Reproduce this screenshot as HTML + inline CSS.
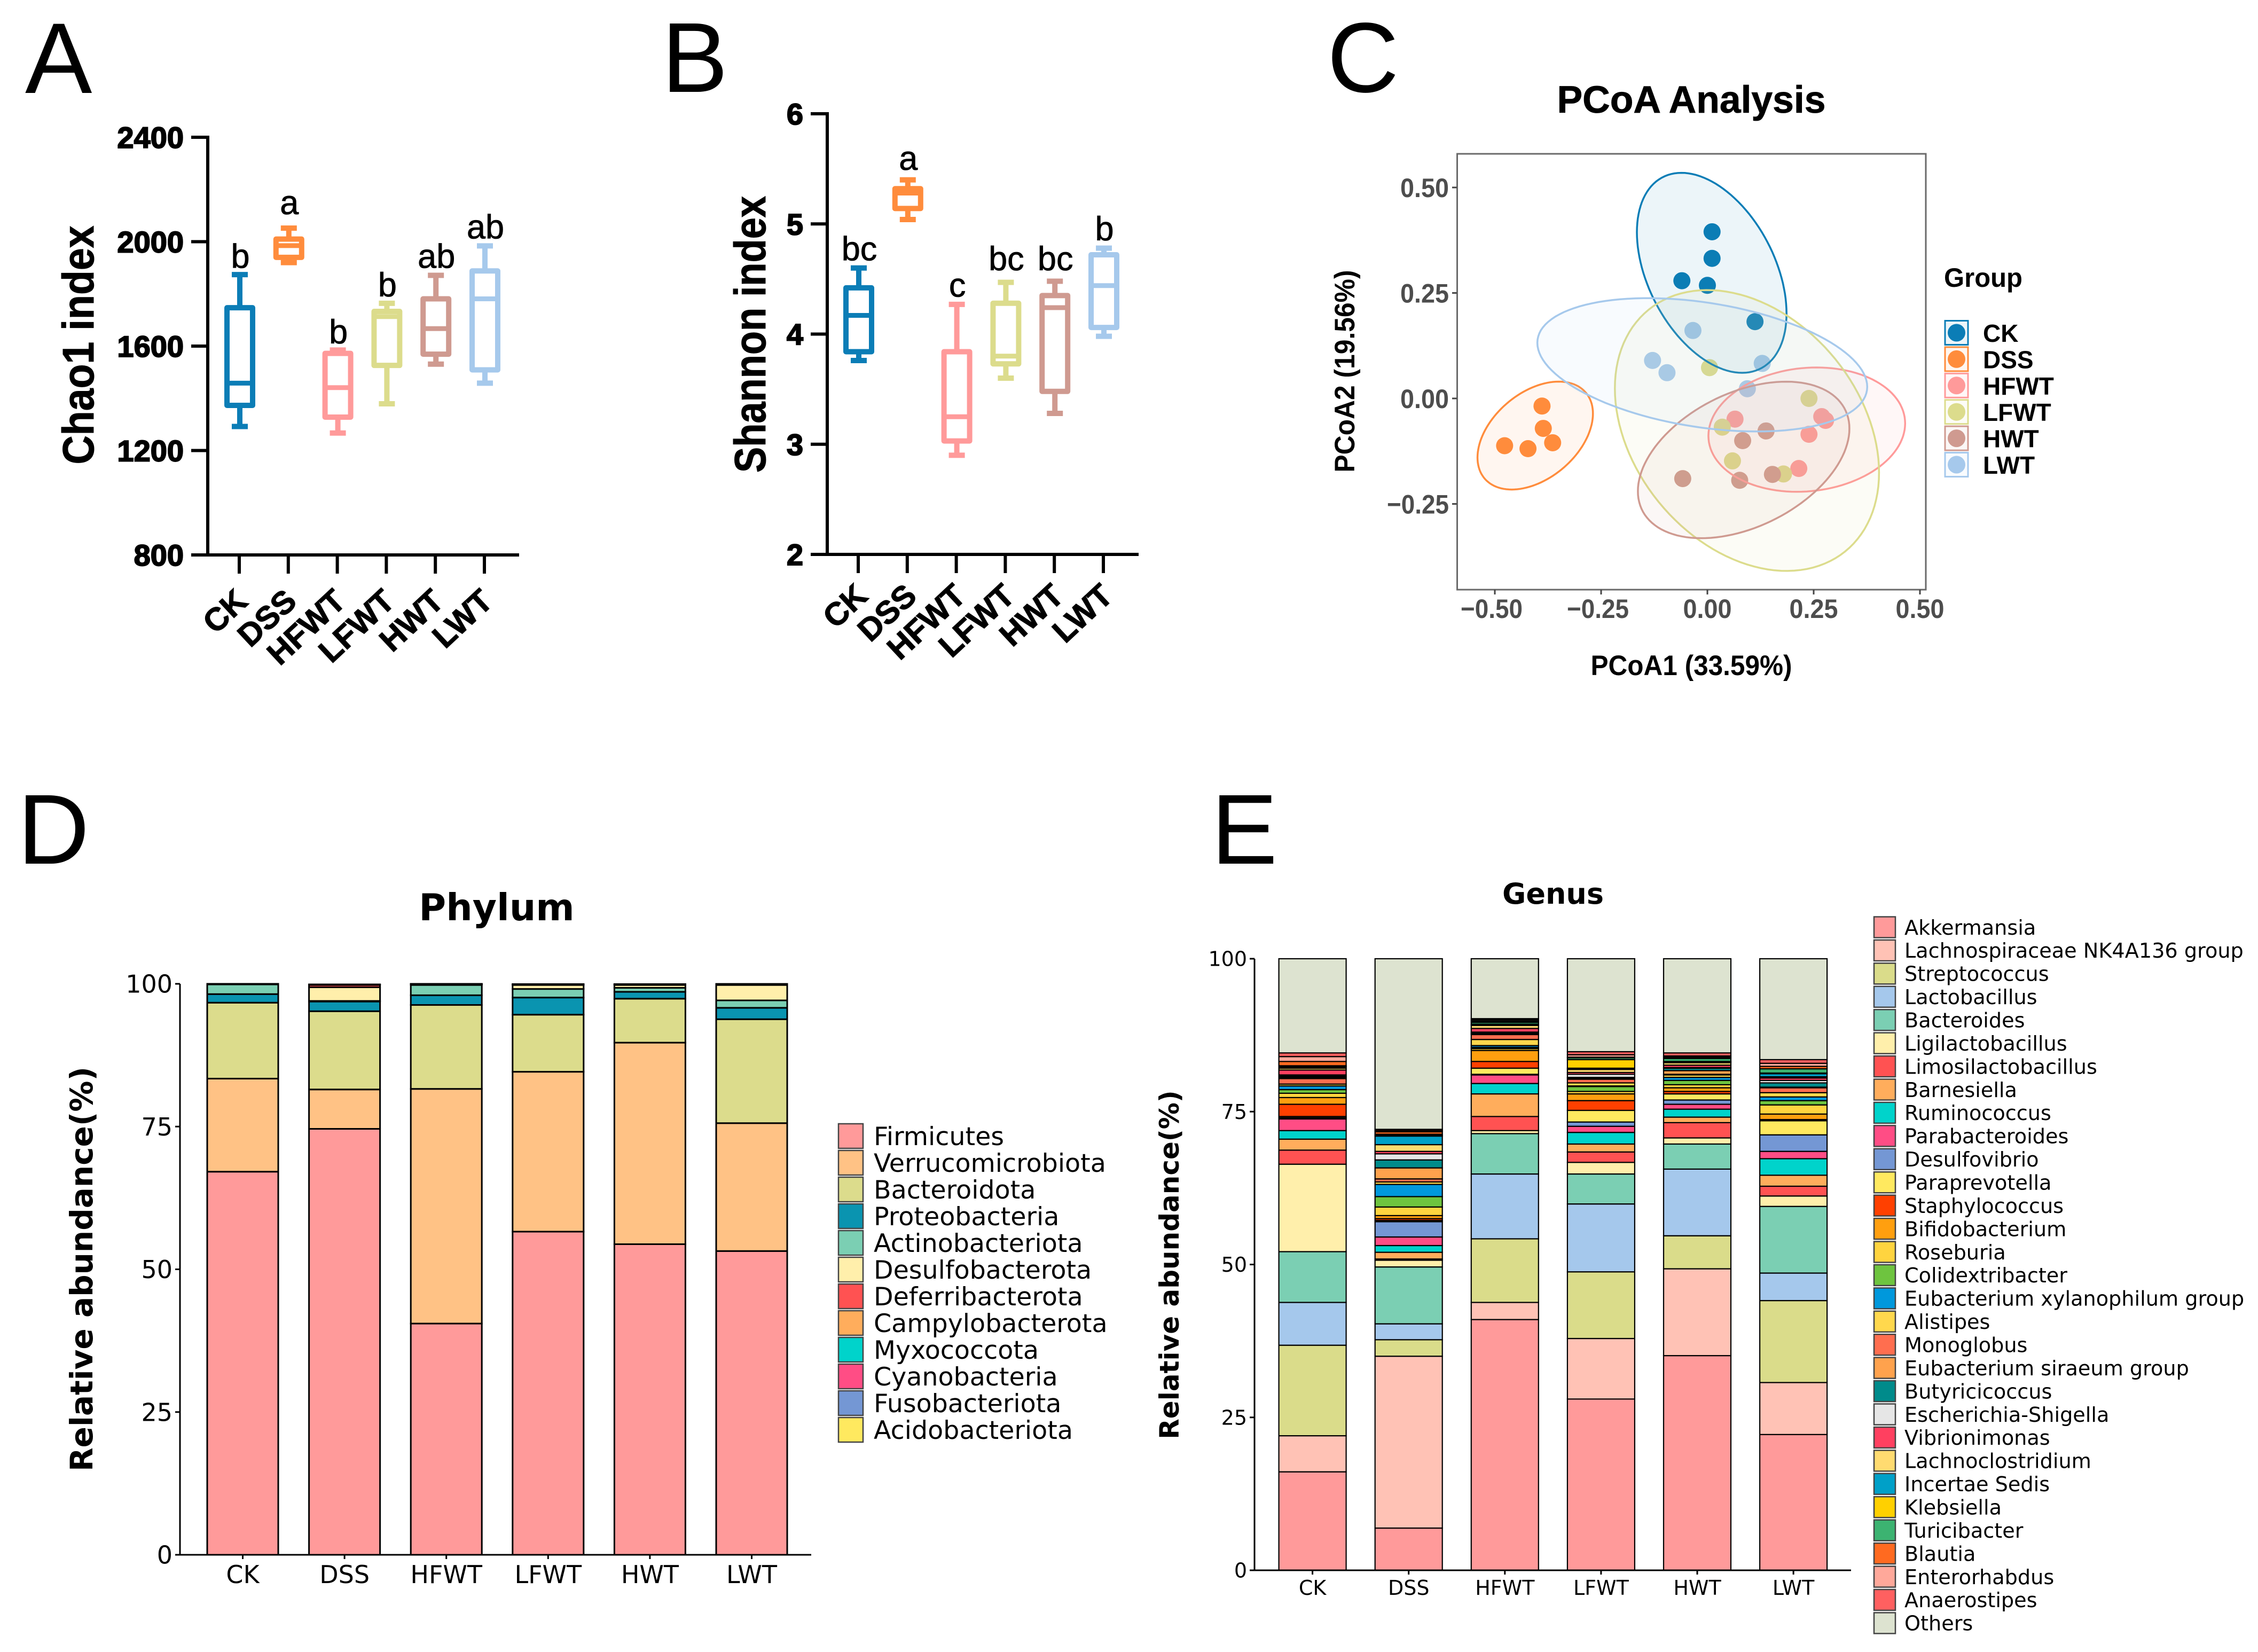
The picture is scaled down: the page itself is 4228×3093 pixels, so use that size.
<!DOCTYPE html>
<html lang="en">
<head>
<meta charset="utf-8">
<title>Microbiome diversity figure</title>
<style>
html,body{margin:0;padding:0;background:#fff;}
svg{display:block;}
text{white-space:pre;}
</style>
</head>
<body>
<svg id="fig" xmlns="http://www.w3.org/2000/svg" width="4228" height="3093" viewBox="0 0 4228 3093">
<rect x="0" y="0" width="4228" height="3093" fill="#fff"/>
<text x="47" y="174" font-family="Liberation Sans, sans-serif" font-size="188">A</text>
<text x="1239" y="172" font-family="Liberation Sans, sans-serif" font-size="186">B</text>
<text x="2485" y="172" font-family="Liberation Sans, sans-serif" font-size="186">C</text>
<text x="33" y="1617" font-family="Liberation Sans, sans-serif" font-size="186">D</text>
<text x="2268" y="1617" font-family="Liberation Sans, sans-serif" font-size="186">E</text>
</svg>
<script>
/* ---------- shared ---------- */
const groups = ['CK','DSS','HFWT','LFWT','HWT','LWT'];
const groupColors = ['#0B7DB6','#FF8C3C','#FF9A9A','#DCDC8C','#CF9A90','#A6C9EC'];

/* ---------- panel A: Chao1 ---------- */
const chaoTicks = [800,1200,1600,2000,2400];
const chaoHigh = [1874,2052,1585,1764,1871,1984];
const chaoQ3   = [1747,2010,1572,1733,1781,1888];
const chaoMed  = [1458,1985,1441,1713,1667,1781];
const chaoQ1   = [1373,1940,1328,1526,1569,1509];
const chaoLow  = [1292,1920,1267,1379,1531,1458];
const chaoSig  = ['b','a','b','b','ab','ab'];
const chaoSigAt = [1900,2105,1610,1790,1900,2012];

/* ---------- panel B: Shannon ---------- */
const shannonTicks = [2,3,4,5,6];
const shannonHigh = [4.60,5.40,4.27,4.47,4.48,4.78];
const shannonQ3   = [4.42,5.32,3.84,4.28,4.35,4.72];
const shannonMed  = [4.17,5.28,3.25,3.80,4.24,4.44];
const shannonQ1   = [3.84,5.14,3.03,3.73,3.48,4.06];
const shannonLow  = [3.76,5.04,2.90,3.60,3.28,3.98];
const shannonSig  = ['bc','a','c','bc','bc','b'];
const shannonSigAt = [4.67,5.49,4.34,4.58,4.58,4.85];

/* ---------- panel C: PCoA ---------- */
const pcoaXTicks = [-0.5,-0.25,0,0.25,0.5];
const pcoaYTicks = [-0.25,0,0.25,0.5];
const ckX = [0.011,0.011,-0.060,0.000,0.112];
const ckY = [0.395,0.332,0.279,0.268,0.182];
const dssX = [-0.389,-0.386,-0.364,-0.422,-0.477];
const dssY = [-0.018,-0.071,-0.105,-0.119,-0.112];
const hfwtX = [0.065,0.269,0.278,0.239,0.215];
const hfwtY = [-0.049,-0.043,-0.052,-0.085,-0.166];
const lfwtX = [0.005,0.239,0.035,0.059,0.179];
const lfwtY = [0.073,0.000,-0.068,-0.148,-0.179];
const hwtX = [0.138,0.083,-0.058,0.076,0.153];
const hwtY = [-0.077,-0.100,-0.190,-0.194,-0.180];
const lwtX = [-0.034,-0.129,-0.095,0.129,0.094];
const lwtY = [0.161,0.090,0.061,0.083,0.023];
const pcoaX = [ckX,dssX,hfwtX,lfwtX,hwtX,lwtX];
const pcoaY = [ckY,dssY,hfwtY,lfwtY,hwtY,lwtY];
const ellipseCx  = [0.0102,-0.405,0.2338,0.0931,0.0853,-0.012];
const ellipseCy  = [0.2977,-0.088,-0.0739,-0.076,-0.1457,0.0797];
const ellipseHx  = [0.176,0.1358,0.2314,0.3107,0.2488,0.388];
const ellipseHy  = [0.237,0.1279,0.1473,0.3328,0.1855,0.158];
const ellipseRho = [-0.406,0.407,0.1,-0.3,0.4,-0.33];

/* ---------- panel D: phylum ---------- */
const phylumTicks = [0,25,50,75,100];
const phylumNames = ['Firmicutes','Verrucomicrobiota','Bacteroidota','Proteobacteria','Actinobacteriota','Desulfobacterota','Deferribacterota','Campylobacterota','Myxococcota','Cyanobacteria','Fusobacteriota','Acidobacteriota'];
const phylumColors = ['#FF9A9A','#FFC285','#DCDC8C','#0A94B0','#7BCFB3','#FFEFAB','#FF5252','#FFAD5C','#00D3CB','#FF4D85','#7497D4','#FFE95F'];
const phylumCK   = [67.1,16.3,13.3,1.5,1.7,0.02,0.02,0.02,0.02,0.01,0.01,0.0];
const phylumDSS  = [74.6,6.9,13.7,1.7,0.1,2.4,0.4,0.05,0.03,0.02,0.0,0.0];
const phylumHFWT = [40.5,41.1,14.7,1.7,1.8,0.1,0.02,0.02,0.02,0.02,0.01,0.0];
const phylumLFWT = [56.6,28.0,10.0,3.0,1.5,0.7,0.05,0.05,0.03,0.02,0.0,0.0];
const phylumHWT  = [54.4,35.3,7.7,1.2,0.7,0.5,0.05,0.05,0.03,0.02,0.0,0.0];
const phylumLWT  = [53.2,22.4,18.2,2.0,1.3,2.7,0.1,0.03,0.02,0.02,0.01,0.0];
const phylumByGroup = [phylumCK,phylumDSS,phylumHFWT,phylumLFWT,phylumHWT,phylumLWT];

/* ---------- panel E: genus ---------- */
const genusTicks = [0,25,50,75,100];
const genusNames = ['Akkermansia','Lachnospiraceae NK4A136 group','Streptococcus','Lactobacillus','Bacteroides','Ligilactobacillus','Limosilactobacillus','Barnesiella','Ruminococcus','Parabacteroides','Desulfovibrio','Paraprevotella','Staphylococcus','Bifidobacterium','Roseburia','Colidextribacter','Eubacterium xylanophilum group','Alistipes','Monoglobus','Eubacterium siraeum group','Butyricicoccus','Escherichia-Shigella','Vibrionimonas','Lachnoclostridium','Incertae Sedis','Klebsiella','Turicibacter','Blautia','Enterorhabdus','Anaerostipes','Others'];
const genusColors = ['#FF9A9A','#FFC2B5','#DADC8A','#A5C8EC','#7BCFB3','#FFEFAB','#FF5252','#FFAD5C','#00D3CB','#FF4D85','#7497D4','#FFE95F','#FF4000','#FF9F0F','#FFD43F','#6EC43F','#0098DC','#FFD84D','#FF6E4F','#FFA24D','#008B8B','#E6E6E6','#FF4060','#FFDB70','#00A0C8','#FFD000','#3CB371','#FF6A20','#FFA89A','#FF6060','#DDE3D0'];
const genusCK   = [16.1,5.9,14.8,7.0,8.3,14.3,2.3,1.8,1.4,1.9,0.2,0.2,2.0,1.1,0.7,0.6,0.6,0.3,0.9,0.2,0.2,0.2,0.8,0.3,0.2,0.1,0.1,0.7,0.8,0.6,15.4];
const genusDSS  = [6.9,28.1,2.7,2.6,9.3,1.1,0.2,1.1,1.1,1.4,2.5,0.2,0.3,0.5,1.4,1.7,2.0,0.4,0.5,1.8,1.3,1.0,0.4,1.1,1.4,0.1,0.2,0.4,0.2,0.2,27.9];
const genusHFWT = [41.0,2.8,10.4,10.6,6.6,0.5,2.3,3.7,1.7,1.4,0.1,1.0,1.1,1.8,0.3,0.2,0.3,1.0,0.8,0.1,0.1,0.2,0.6,0.5,0.1,0.1,0.3,0.2,0.2,0.2,9.8];
const genusLFWT = [28.0,9.9,10.9,11.1,4.9,1.9,1.7,1.3,1.9,1.0,0.7,1.9,1.6,1.1,0.4,0.8,0.1,0.5,0.6,0.2,0.1,0.5,0.3,0.5,0.2,1.4,0.3,0.1,0.4,0.5,15.2];
const genusHWT  = [35.1,14.2,5.4,10.9,4.1,1.0,2.5,0.9,1.3,0.8,0.7,1.0,0.4,0.6,0.5,0.7,0.5,0.4,0.1,0.6,0.4,0.1,0.4,0.4,0.1,0.1,0.5,0.2,0.2,0.5,15.4];
const genusLWT  = [22.2,8.5,13.4,4.5,10.9,1.7,1.6,1.8,2.7,1.2,2.7,2.3,0.2,0.9,1.5,0.7,0.6,0.7,0.8,0.1,0.7,0.4,0.4,0.2,0.5,0.1,0.7,0.4,0.5,0.6,16.5];
const genusByGroup = [genusCK,genusDSS,genusHFWT,genusLFWT,genusHWT,genusLWT];

/* ---------- helpers ---------- */
const NS = 'http://www.w3.org/2000/svg';
const svg = document.getElementById('fig');
const SANS = '"Liberation Sans", Arial, sans-serif';
const DEJA = '"DejaVu Sans", sans-serif';
function mk(tag, attrs, parent) {
  const n = document.createElementNS(NS, tag);
  for (const k in attrs) n.setAttribute(k, attrs[k]);
  (parent || svg).appendChild(n);
  return n;
}
function group(parent) { return mk('g', {}, parent); }
function line(parent, x1, y1, x2, y2, stroke, w) {
  return mk('line', {x1:x1, y1:y1, x2:x2, y2:y2, stroke:stroke, 'stroke-width':w}, parent);
}
function label(parent, x, y, str, size, opts) {
  const o = opts || {};
  const n = mk('text', {
    'font-family': o.family || SANS,
    'font-size': size,
    'font-weight': o.weight || 'normal',
    'text-anchor': o.anchor || 'start',
    fill: o.fill || '#000'
  }, parent);
  let tr = 'translate(' + x + ' ' + y + ')';
  if (o.rot) tr += ' rotate(' + o.rot + ')';
  n.setAttribute('transform', tr);
  if (o.len) {
    n.setAttribute('textLength', o.len);
    n.setAttribute('lengthAdjust', 'spacingAndGlyphs');
  }
  if (o.thick) {
    n.setAttribute('stroke', o.fill || '#000');
    n.setAttribute('stroke-width', o.thick);
  }
  n.textContent = str;
  return n;
}

/* ---------- box plots ---------- */
function boxPanel(cfg) {
  const yOf = cfg.yOf;
  const root = group();
  
  
  const yAxis = line(root, cfg.axisX, yOf(cfg.ticks[cfg.ticks.length-1]) - 3, cfg.axisX, yOf(cfg.ticks[0]) + 3, '#000', 6);
  
  
  const xAxis = line(root, cfg.axisX - 3, yOf(cfg.ticks[0]), cfg.axisEnd, yOf(cfg.ticks[0]), '#000', 6);
  
  
  cfg.ticks.forEach(function (v) {
    const tick = line(root, cfg.axisX - 31, yOf(v), cfg.axisX, yOf(v), '#000', 6);
    
    
    const tl = label(root, cfg.axisX - 45, yOf(v) + 20, String(v), 56, {weight:'bold', anchor:'end', thick:2});
    
    
  });
  const title = label(root, cfg.titleX, cfg.titleY, cfg.title, 83, {weight:'bold', anchor:'middle', rot:-90, len:cfg.titleLen, thick:1});
  
  
  groups.forEach(function (g, i) {
    const x = cfg.x0 + i * cfg.step;
    const c = groupColors[i];
    const bottom = yOf(cfg.ticks[0]);
    const tick = line(root, x, bottom, x, bottom + 35, '#000', 6);
    
    
    const tl = label(root, x + cfg.labelDx, cfg.labelY, g, 60, {weight:'bold', anchor:'end', rot:-43, thick:1.2});
    
    
    const whisker = line(root, x + 1, yOf(cfg.high[i]), x + 1, yOf(cfg.low[i]), c, 10);
    
    
    const capHi = line(root, x - 14, yOf(cfg.high[i]), x + 16, yOf(cfg.high[i]), c, 10);
    
    
    const capLo = line(root, x - 14, yOf(cfg.low[i]), x + 16, yOf(cfg.low[i]), c, 10);
    
    
    const box = mk('rect', {x:x - 23, y:yOf(cfg.q3[i]), width:48, height:yOf(cfg.q1[i]) - yOf(cfg.q3[i]), fill:'#fff', stroke:c, 'stroke-width':10, 'stroke-linejoin':'round'}, root);
    
    
    const med = line(root, x - 23, yOf(cfg.med[i]), x + 25, yOf(cfg.med[i]), c, 9);
    
    
    const sig = label(root, x + 2, yOf(cfg.sigAt[i]), cfg.sig[i], 63, {anchor:'middle', thick:0.8});
    
    
  });
}
boxPanel({name:'chao1', ticks:chaoTicks, yOf:function (v) { return 1039 - (v - 800) * (782 / 1600); },
  axisX:389, axisEnd:972, x0:448, step:91.8, title:'Chao1 index', titleX:175, titleY:646, titleLen:447, labelY:1130, labelDx:19,
  high:chaoHigh, q3:chaoQ3, med:chaoMed, q1:chaoQ1, low:chaoLow, sig:chaoSig, sigAt:chaoSigAt});
boxPanel({name:'shannon', ticks:shannonTicks, yOf:function (v) { return 1038 - (v - 2) * 206.25; },
  axisX:1549, axisEnd:2132, x0:1607, step:91.8, title:'Shannon index', titleX:1433, titleY:626, titleLen:518, labelY:1120, labelDx:21,
  high:shannonHigh, q3:shannonQ3, med:shannonMed, q1:shannonQ1, low:shannonLow, sig:shannonSig, sigAt:shannonSigAt});

/* ---------- PCoA ---------- */
(function () {
  const px = function (v) { return 3197 + 796 * v; };
  const py = function (v) { return 746 - 790 * v; };
  const root = group();
  
  
  const title = label(root, 3167, 211, 'PCoA Analysis', 71, {weight:'bold', anchor:'middle', len:503, thick:0.8});
  
  
  const frame = mk('rect', {x:2728.5, y:288, width:877.5, height:816, fill:'#fff', stroke:'#6a6a6a', 'stroke-width':3}, root);
  
  
  pcoaXTicks.forEach(function (v) {
    const tick = line(root, px(v), 1104, px(v), 1113, '#444', 3);
    
    
    const s = (v < 0 ? '\u2212' : '') + Math.abs(v).toFixed(2);
    const tl = label(root, px(v) - (v < 0 ? 6 : 0), 1157, s, 50, {weight:'bold', anchor:'middle', fill:'#4D4D4D', len:v < 0 ? 116 : 91});
    
    
  });
  pcoaYTicks.forEach(function (v) {
    const tick = line(root, 2719, py(v), 2728, py(v), '#444', 3);
    
    
    const s = (v < 0 ? '\u2212' : '') + Math.abs(v).toFixed(2);
    const tl = label(root, 2713, py(v) + 18, s, 50, {weight:'bold', anchor:'end', fill:'#4D4D4D', len:v < 0 ? 116 : 91});
    
    
  });
  const xt = label(root, 3167, 1264, 'PCoA1 (33.59%)', 53, {weight:'bold', anchor:'middle', len:377});
  
  
  const yt = label(root, 2536, 695, 'PCoA2 (19.56%)', 53, {weight:'bold', anchor:'middle', rot:-90, len:379});
  
  
  groups.forEach(function (g, i) {
    pcoaX[i].forEach(function (xv, j) {
      const dot = mk('circle', {cx:px(xv), cy:py(pcoaY[i][j]), r:16, fill:groupColors[i]}, root);
      
      
    });
  });
  groups.forEach(function (g, i) {
    const rho = ellipseRho[i];
    const pts = [];
    for (let k = 0; k < 120; k++) {
      const t = k / 120 * Math.PI * 2;
      const dx = ellipseCx[i] + ellipseHx[i] * Math.cos(t);
      const dy = ellipseCy[i] + ellipseHy[i] * (rho * Math.cos(t) + Math.sqrt(1 - rho * rho) * Math.sin(t));
      pts.push(px(dx).toFixed(1) + ',' + py(dy).toFixed(1));
    }
    const el = mk('polygon', {points:pts.join(' '), fill:groupColors[i], 'fill-opacity':0.08, stroke:groupColors[i], 'stroke-width':3.5}, root);
    
    
  });
  const lt = label(root, 3640, 537, 'Group', 50, {weight:'bold', len:147});
  
  
  groups.forEach(function (g, i) {
    const cy = 623 + i * 49.4;
    const key = mk('rect', {x:3642, y:cy - 22.5, width:43, height:45, fill:groupColors[i], 'fill-opacity':0.08, stroke:groupColors[i], 'stroke-width':3}, root);
    
    
    const dot = mk('circle', {cx:3663.5, cy:cy, r:16.5, fill:groupColors[i]}, root);
    
    
    const tx = label(root, 3713, cy + 17, g, 46, {weight:'bold'});
    
    
  });
})();

/* ---------- stacked bars ---------- */
function stackPanel(cfg) {
  const yOf = function (v) { return cfg.y0 - v * cfg.yScale; };
  const root = group();
  
  
  const title = label(root, cfg.titleX, cfg.titleY, cfg.title, cfg.titleSize, {family:DEJA, weight:'bold', anchor:'middle'});
  
  
  const yt = label(root, cfg.yTitleX, cfg.yTitleY, 'Relative abundance(%)', cfg.yTitleSize, {family:DEJA, weight:'bold', anchor:'middle', rot:-90});
  
  
  groups.forEach(function (g, i) {
    const x = cfg.x0 + i * cfg.step;
    let acc = 0;
    cfg.byGroup[i].forEach(function (v, s) {
      if (v <= 0) return;
      const seg = mk('rect', {x:x, y:yOf(acc + v), width:cfg.barW, height:v * cfg.yScale, fill:cfg.colors[s], stroke:'#000', 'stroke-width':cfg.strokeW}, root);
      
      
      acc += v;
    });
    const tick = line(root, x + cfg.barW / 2, cfg.y0, x + cfg.barW / 2, cfg.y0 + 8, '#000', 3);
    
    
    const tl = label(root, x + cfg.barW / 2, cfg.xLabelY, g, cfg.tickSize, {family:DEJA, anchor:'middle'});
    
    
  });
  const yAxis = line(root, cfg.axisX, yOf(100), cfg.axisX, cfg.y0 + 1.5, '#000', 3);
  
  
  const xAxis = line(root, cfg.axisX, cfg.y0, cfg.axisEnd, cfg.y0, '#000', 3);
  
  
  cfg.ticks.forEach(function (v) {
    const tick = line(root, cfg.axisX - 9, yOf(v), cfg.axisX, yOf(v), '#000', 3);
    
    
    const tl = label(root, cfg.axisX - 14, yOf(v) + cfg.tickSize * 0.36, String(v), cfg.tickSize, {family:DEJA, anchor:'end'});
    
    
  });
  cfg.names.forEach(function (nm, s) {
    const cy = cfg.legY + s * cfg.legStep;
    const key = mk('rect', {x:cfg.legX, y:cy - cfg.legBoxH / 2, width:cfg.legBoxW, height:cfg.legBoxH, fill:cfg.colors[s], stroke:'#444', 'stroke-width':2.5}, root);
    
    
    const tx = label(root, cfg.legTextX, cy + cfg.legSize * 0.36, nm, cfg.legSize, {family:DEJA});
    
    
  });
}
stackPanel({name:'phylum', byGroup:phylumByGroup, colors:phylumColors, names:phylumNames, ticks:phylumTicks,
  y0:2911, yScale:10.69, x0:388, step:190.6, barW:133, strokeW:3, axisX:337, axisEnd:1519, tickSize:46, xLabelY:2964,
  title:'Phylum', titleX:930, titleY:1723, titleSize:69.5, yTitleX:173, yTitleY:2376, yTitleSize:58,
  legX:1570, legY:2127, legStep:50, legBoxW:46, legBoxH:46, legTextX:1636, legSize:47.5});
stackPanel({name:'genus', byGroup:genusByGroup, colors:genusColors, names:genusNames, ticks:genusTicks,
  y0:2940, yScale:11.45, x0:2394.6, step:180.1, barW:126, strokeW:2.2, axisX:2349, axisEnd:3466, tickSize:38, xLabelY:2986,
  title:'Genus', titleX:2908, titleY:1692, titleSize:54, yTitleX:2207, yTitleY:2368, yTitleSize:50,
  legX:3509, legY:1736, legStep:43.43, legBoxW:40, legBoxH:39, legTextX:3566, legSize:38.2});
</script>
</body>
</html>
